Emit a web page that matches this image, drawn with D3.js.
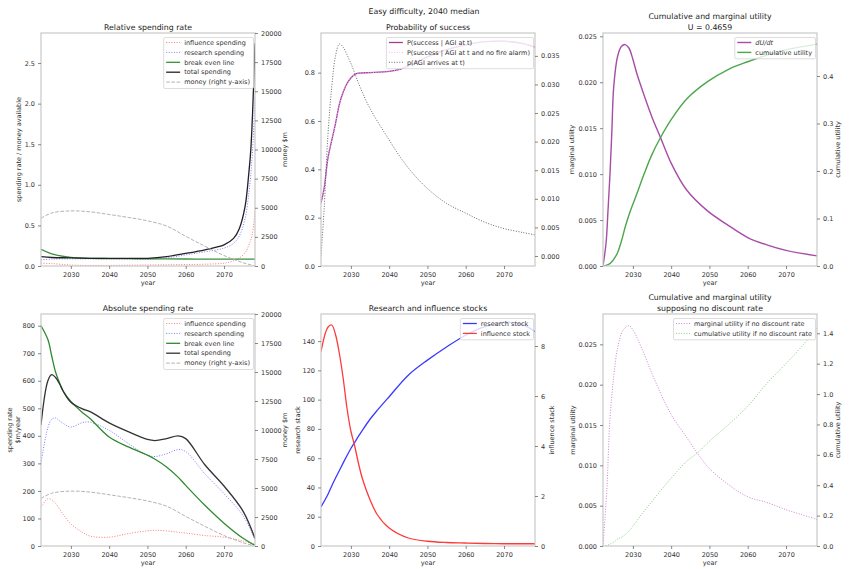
<!DOCTYPE html>
<html>
<head>
<meta charset="utf-8">
<script src="https://cdn.jsdelivr.net/npm/d3@7"></script>
<style>
  body { margin: 0; background: #fff; }
  text { font-family: 'DejaVu Sans', sans-serif; }
  .tick text { font-size: 6.5px; fill: #333; }
  .tick line { stroke: #555; stroke-width: 0.7; }
</style>
</head>
<body>
<div id="chart"></div>
<script>
// relative spending rate (spend per year / money available)
var relYears = [2022.2, 2025, 2030, 2035, 2040, 2045, 2050, 2055, 2060, 2065, 2070, 2072.5, 2074, 2075.5, 2076.5, 2077, 2077.5, 2078.1];
var relInfluence = [0.035, 0.03, 0.012, 0.006, 0.007, 0.01, 0.013, 0.015, 0.018, 0.022, 0.035, 0.065, 0.1, 0.16, 0.26, 0.32, 0.42, 0.68];
var relResearch = [0.075, 0.085, 0.088, 0.088, 0.087, 0.085, 0.083, 0.1, 0.137, 0.175, 0.22, 0.28, 0.37, 0.58, 0.9, 1.12, 1.45, 2.08];
var relBreakEven = [0.205, 0.15, 0.105, 0.095, 0.092, 0.09, 0.088, 0.087, 0.086, 0.085, 0.085, 0.085, 0.085, 0.085, 0.085, 0.085, 0.085, 0.085];
var relTotal = [0.115, 0.105, 0.1, 0.095, 0.093, 0.093, 0.095, 0.115, 0.155, 0.2, 0.26, 0.34, 0.46, 0.73, 1.15, 1.43, 1.92, 2.74];

// money left, $m
var moneyYears = [2022.2, 2025, 2030, 2035, 2040, 2045, 2050, 2055, 2060, 2065, 2070, 2075, 2078.1];
var money = [4100, 4550, 4730, 4650, 4420, 4170, 3880, 3430, 2550, 1700, 900, 280, 0];

// absolute spending rate, $m/year
var absYears = [2022.2, 2024, 2025, 2026, 2027, 2028, 2030, 2033, 2035, 2040, 2045, 2050, 2052, 2055, 2058, 2060, 2065, 2070, 2075, 2078.1];
var absInfluence = [140, 172, 168, 155, 135, 115, 80, 50, 36, 32, 45, 55, 57, 55, 50, 47, 38, 32, 18, 6];
var absResearch = [300, 430, 460, 465, 455, 445, 432, 448, 450, 420, 372, 330, 325, 335, 350, 343, 262, 190, 110, 22];
var absBreakEven = [800, 750, 690, 632, 594, 563, 525, 485, 463, 396, 360, 330, 315, 287, 250, 220, 148, 83, 28, 2];
var absTotal = [440, 600, 622, 612, 590, 562, 522, 498, 488, 447, 415, 387, 383, 390, 400, 390, 295, 218, 126, 27];

// probability of success
var probYears = [2022.2, 2023, 2024, 2025, 2026, 2027, 2028, 2029, 2030, 2031, 2032, 2035, 2040, 2043, 2046, 2050, 2055, 2060, 2065, 2070, 2075, 2078.1];
var pSuccess = [0.26, 0.32, 0.445, 0.52, 0.59, 0.67, 0.72, 0.755, 0.778, 0.792, 0.798, 0.8, 0.805, 0.815, 0.835, 0.865, 0.895, 0.915, 0.928, 0.93, 0.92, 0.905];
var pSuccessNoAlarm = [0.26, 0.32, 0.445, 0.52, 0.59, 0.67, 0.72, 0.755, 0.778, 0.792, 0.798, 0.8, 0.805, 0.815, 0.835, 0.865, 0.895, 0.915, 0.928, 0.93, 0.92, 0.905];
var pAgi = [0, 0.008, 0.021, 0.0295, 0.035, 0.0371, 0.0365, 0.0352, 0.0337, 0.032, 0.0302, 0.0258, 0.0203, 0.0172, 0.0146, 0.0118, 0.0092, 0.0075, 0.0059, 0.0048, 0.0041, 0.0037];

// utility with discounting
var utilYears = [2022.2, 2023, 2023.5, 2024, 2024.5, 2025, 2026, 2027, 2028, 2029, 2030, 2031, 2033, 2035, 2037.2, 2040, 2044, 2049.5, 2055, 2060, 2065, 2070, 2078.1];
var marginal = [0, 0.0025, 0.006, 0.0098, 0.0145, 0.0195, 0.0228, 0.0239, 0.0241, 0.0237, 0.0225, 0.021, 0.0185, 0.0162, 0.014, 0.0112, 0.0083, 0.006, 0.0044, 0.0031, 0.0023, 0.0017, 0.0011];
var cumulative = [0, 0.001, 0.003, 0.005, 0.009, 0.014, 0.028, 0.052, 0.082, 0.108, 0.13, 0.151, 0.195, 0.235, 0.27, 0.308, 0.351, 0.388, 0.414, 0.43, 0.444, 0.455, 0.467];

// research and influence stocks
var stockYears = [2022.2, 2024, 2025, 2026, 2027, 2028, 2029, 2030, 2031, 2032, 2033, 2035, 2037, 2040, 2045, 2050, 2055, 2060, 2065, 2070, 2075, 2078.1];
var researchStock = [26.7, 35.2, 41, 46.4, 51.6, 56.8, 61.8, 66.6, 70.8, 75, 79, 86.6, 93, 102, 116.7, 127, 136, 144, 149.8, 153, 151, 146.4];
var influenceStock = [7.77, 8.75, 8.84, 8.45, 7.7, 6.7, 5.5, 4.6, 4.0, 3.3, 2.7, 1.85, 1.23, 0.72, 0.32, 0.19, 0.14, 0.12, 0.1, 0.09, 0.09, 0.09];

// utility with no discount rate
var ndYears = [2022.2, 2023.2, 2024, 2025, 2026, 2027.5, 2029, 2030, 2032.5, 2035.5, 2040, 2044, 2047, 2050, 2055, 2060, 2065, 2070, 2074, 2078.1];
var ndMarginal = [0, 0.0069, 0.0156, 0.021, 0.0245, 0.0268, 0.0273, 0.0268, 0.0243, 0.0208, 0.0163, 0.0135, 0.0114, 0.0096, 0.0076, 0.0061, 0.0054, 0.0045, 0.0039, 0.0033];
var ndCumulative = [0, 0.004, 0.012, 0.025, 0.045, 0.065, 0.1, 0.13, 0.215, 0.31, 0.446, 0.556, 0.615, 0.69, 0.8, 0.92, 1.07, 1.2, 1.31, 1.437];

// tick labels
var yearTicks = [2030, 2040, 2050, 2060, 2070];
var relTicks = [0, 0.5, 1.0, 1.5, 2.0, 2.5];
var moneyTicks = [0, 2500, 5000, 7500, 10000, 12500, 15000, 17500, 20000];
var probTicks = [0, 0.2, 0.4, 0.6, 0.8];
var pAgiTicks = [0, 0.005, 0.01, 0.015, 0.02, 0.025, 0.03, 0.035];
var marginalTicks = [0, 0.005, 0.01, 0.015, 0.02, 0.025];
var cumulativeTicks = [0, 0.1, 0.2, 0.3, 0.4];
var absTicks = [0, 100, 200, 300, 400, 500, 600, 700, 800];
var researchTicks = [0, 20, 40, 60, 80, 100, 120, 140];
var influenceTicks = [0, 2, 4, 6, 8];
var ndCumulativeTicks = [0, 0.2, 0.4, 0.6, 0.8, 1.0, 1.2, 1.4];

var dotted = '1,1.6', dashed = '3.6,1.6';
var xDomain = [2022.2, 2078.1];

var svg = d3.select('#chart').append('svg').attr('width', 850).attr('height', 569);

svg.append('text').attr('x', 424).attr('y', 13.5).attr('text-anchor', 'middle')
  .style('font-size', '7.8px').style('fill', '#222').text('Easy difficulty, 2040 median');

function panel(p) {
  var w = 214, h = p.h;
  var g = svg.append('g').attr('transform', 'translate(' + p.left + ', ' + p.top + ')');
  var x = d3.scaleLinear().domain(xDomain).range([0, w]);
  var yL = d3.scaleLinear().domain(p.yL.domain).range([h, 0]);
  var yR = d3.scaleLinear().domain(p.yR.domain).range([h, 0]);

  g.append('clipPath').attr('id', 'clip-' + p.id).append('rect').attr('width', w).attr('height', h);
  var plot = g.append('g').attr('clip-path', 'url(#clip-' + p.id + ')');

  p.series.forEach(function (s) {
    var y = s.right ? yR : yL;
    var line = d3.line().curve(d3.curveCatmullRom.alpha(0.5))
      .x(function (d) { return x(d[0]); })
      .y(function (d) { return y(d[1]); });
    plot.append('path').datum(d3.zip(s.x, s.y)).attr('d', line)
      .attr('fill', 'none').attr('stroke', s.color)
      .attr('stroke-width', s.width).attr('stroke-dasharray', s.dash || null);
  });

  g.append('rect').attr('width', w).attr('height', h)
    .attr('fill', 'none').attr('stroke', '#c8c8c8').attr('stroke-width', 1.2);

  var noDomain = function (sel) { sel.select('.domain').remove(); };
  g.append('g').attr('transform', 'translate(0, ' + h + ')')
    .call(d3.axisBottom(x).tickValues(yearTicks).tickFormat(d3.format('d')).tickSize(3).tickPadding(3)).call(noDomain);
  g.append('g')
    .call(d3.axisLeft(yL).tickValues(p.yL.ticks).tickFormat(d3.format(p.yL.fmt)).tickSize(3).tickPadding(3)).call(noDomain);
  g.append('g').attr('transform', 'translate(' + w + ', 0)')
    .call(d3.axisRight(yR).tickValues(p.yR.ticks).tickFormat(d3.format(p.yR.fmt)).tickSize(3).tickPadding(3)).call(noDomain);

  // titles, stacked upwards from the plot top
  p.title.slice().reverse().forEach(function (t, i) {
    g.append('text').attr('x', w / 2).attr('y', -3.5 - i * 10.8).attr('text-anchor', 'middle')
      .style('font-size', '7.8px').style('fill', '#222').text(t);
  });

  g.append('text').attr('x', w / 2).attr('y', h + 18.8).attr('text-anchor', 'middle')
    .style('font-size', '6.5px').style('fill', '#333').text('year');

  [[p.yL, 0], [p.yR, w]].forEach(function (a) {
    if (!a[0].label) return;
    a[0].label.forEach(function (t, i) {
      g.append('text').attr('transform', 'translate(' + (a[1] + a[0].at[i]) + ', ' + (h / 2) + ') rotate(-90)')
        .attr('text-anchor', 'middle').attr('dy', '0.35em')
        .style('font-size', '6.5px').style('fill', '#333').text(t);
    });
  });

  // legend, upper right
  var lg = g.append('g');
  var box = lg.append('rect');
  var rows = lg.selectAll('g.row').data(p.series).enter().append('g').attr('class', 'row')
    .attr('transform', function (d, i) { return 'translate(0, ' + (9.5 + i * 9.9) + ')'; });
  rows.append('line').attr('x1', 2.5).attr('x2', 16.5)
    .attr('stroke', function (d) { return d.color; })
    .attr('stroke-width', function (d) { return d.width; })
    .attr('stroke-dasharray', function (d) { return d.dash || null; });
  var labels = rows.append('text').attr('x', 20.5).attr('dy', '0.35em')
    .style('font-size', '6.5px').style('fill', '#333')
    .style('font-style', function (d) { return d.italic ? 'italic' : null; })
    .text(function (d) { return d.label; });
  var tw = d3.max(labels.nodes(), function (n) { return n.getComputedTextLength(); });
  var bw = tw + 24;
  box.attr('x', 0).attr('y', 4.5).attr('width', bw).attr('height', p.series.length * 9.9 + 1.5)
    .attr('rx', 1.5).attr('fill', '#fff').attr('fill-opacity', 0.8)
    .attr('stroke', '#d4d4d4').attr('stroke-width', 0.8);
  lg.attr('transform', 'translate(' + (w - 1.5 - bw) + ', 0)');
}

panel({
  id: 'rel', left: 41, top: 33, h: 233, title: ['Relative spending rate'],
  yL: { domain: [0, 2.87], ticks: relTicks, fmt: '.1f', label: ['spending rate / money available'], at: [-22] },
  yR: { domain: [0, 20000], ticks: moneyTicks, fmt: 'd', label: ['money $m'], at: [30] },
  series: [
    { x: relYears, y: relInfluence, color: '#ff7a7a', width: 1, dash: dotted, label: 'influence spending' },
    { x: relYears, y: relResearch, color: '#7a7aff', width: 1, dash: dotted, label: 'research spending' },
    { x: relYears, y: relBreakEven, color: '#3a8f3a', width: 1.3, label: 'break even line' },
    { x: relYears, y: relTotal, color: '#222', width: 1.3, label: 'total spending' },
    { x: moneyYears, y: money, right: true, color: '#b3b3b3', width: 1, dash: dashed, label: 'money (right y-axis)' }
  ]
});

panel({
  id: 'prob', left: 321, top: 33, h: 233, title: ['Probability of success'],
  yL: { domain: [0, 0.964], ticks: probTicks, fmt: '.1f' },
  yR: { domain: [-0.00175, 0.039], ticks: pAgiTicks, fmt: '.3f' },
  series: [
    { x: probYears, y: pSuccess, color: '#9c3d9c', width: 1.3, label: 'P(success | AGI at t)' },
    { x: probYears, y: pSuccessNoAlarm, color: '#ffaaff', width: 1, dash: dotted, label: 'P(success | AGI at t and no fire alarm)' },
    { x: probYears, y: pAgi, right: true, color: '#666', width: 1, dash: dotted, label: 'p(AGI arrives at t)' }
  ]
});

panel({
  id: 'util', left: 603, top: 33, h: 233, title: ['Cumulative and marginal utility', 'U = 0.4659'],
  yL: { domain: [0, 0.02536], ticks: marginalTicks, fmt: '.3f', label: ['marginal utility'], at: [-31] },
  yR: { domain: [0, 0.4905], ticks: cumulativeTicks, fmt: '.1f', label: ['cumulative utility'], at: [21] },
  series: [
    { x: utilYears, y: marginal, color: '#a64da6', width: 1.4, italic: true, label: 'dU/dt' },
    { x: utilYears, y: cumulative, right: true, color: '#4ca64c', width: 1.4, label: 'cumulative utility' }
  ]
});

panel({
  id: 'abs', left: 41, top: 314, h: 232, title: ['Absolute spending rate'],
  yL: { domain: [0, 842.5], ticks: absTicks, fmt: 'd', label: ['spending rate', '$m/year'], at: [-31.5, -23.5] },
  yR: { domain: [0, 20000], ticks: moneyTicks, fmt: 'd', label: ['money $m'], at: [30] },
  series: [
    { x: absYears, y: absInfluence, color: '#ff7a7a', width: 1, dash: dotted, label: 'influence spending' },
    { x: absYears, y: absResearch, color: '#7a7aff', width: 1, dash: dotted, label: 'research spending' },
    { x: absYears, y: absBreakEven, color: '#2f8a2f', width: 1.3, label: 'break even line' },
    { x: absYears, y: absTotal, color: '#333', width: 1.3, label: 'total spending' },
    { x: moneyYears, y: money, right: true, color: '#b3b3b3', width: 1, dash: dashed, label: 'money (right y-axis)' }
  ]
});

panel({
  id: 'stock', left: 321, top: 314, h: 232, title: ['Research and influence stocks'],
  yL: { domain: [0, 158.5], ticks: researchTicks, fmt: 'd', label: ['research stack'], at: [-23] },
  yR: { domain: [0, 9.28], ticks: influenceTicks, fmt: 'd', label: ['influence stack'], at: [17] },
  series: [
    { x: stockYears, y: researchStock, color: '#3a3aff', width: 1.3, label: 'research stock' },
    { x: stockYears, y: influenceStock, right: true, color: '#ff3a3a', width: 1.3, label: 'influence stock' }
  ]
});

panel({
  id: 'nodisc', left: 603, top: 314, h: 232, title: ['Cumulative and marginal utility', 'supposing no discount rate'],
  yL: { domain: [0, 0.02876], ticks: marginalTicks, fmt: '.3f', label: ['marginal utility'], at: [-30] },
  yR: { domain: [0, 1.527], ticks: ndCumulativeTicks, fmt: '.1f', label: ['cumulative utility'], at: [21] },
  series: [
    { x: ndYears, y: ndMarginal, color: '#d080d0', width: 1, dash: dotted, label: 'marginal utility if no discount rate' },
    { x: ndYears, y: ndCumulative, right: true, color: '#80d080', width: 1, dash: dotted, label: 'cumulative utility if no discount rate' }
  ]
});
</script>
</body>
</html>
